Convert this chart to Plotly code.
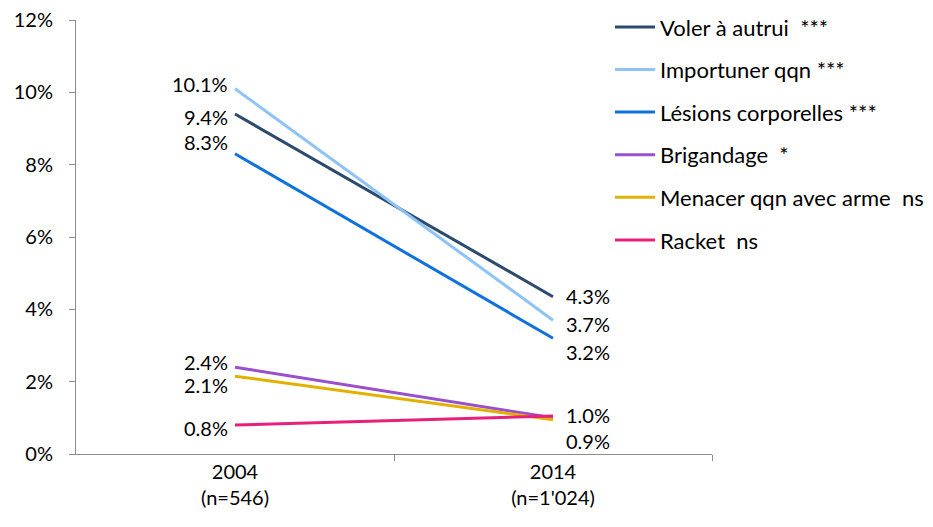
import plotly.graph_objects as go

categories = ["2004<br>(n=546)", "2014<br>(n=1'024)"]
series_names = [
    "Voler à autrui  ***",
    "Importuner qqn ***",
    "Lésions corporelles ***",
    "Brigandage  *",
    "Menacer qqn avec arme  ns",
    "Racket  ns",
]
voler = [9.4, 4.35]
importuner = [10.1, 3.7]
lesions = [8.3, 3.2]
brigandage = [2.4, 1.0]
menacer = [2.15, 0.95]
racket = [0.8, 1.05]
labels_voler = ["9.4%", "4.3%"]
labels_importuner = ["10.1%", "3.7%"]
labels_lesions = ["8.3%", "3.2%"]
labels_brigandage = ["2.4%", ""]
labels_menacer = ["2.1%", "0.9%"]
labels_racket = ["0.8%", "1.0%"]
y_ticks = [0, 2, 4, 6, 8, 10, 12]

values = [voler, importuner, lesions, brigandage, menacer, racket]
labels = [labels_voler, labels_importuner, labels_lesions, labels_brigandage, labels_menacer, labels_racket]
colors = ["#2C4A6E", "#8DC3F7", "#0E72DE", "#9A4FCC", "#E2B100", "#E8207C"]
# label vertical offsets (px) for readability: [start, end]
yshifts = [[-3, 1], [5, -4], [12, -14], [5, 0], [-9, -21], [-3, 1]]

font = "Lato, Calibri, Carlito, sans-serif"
x_pos = [0, 1]

fig = go.Figure()
for name, v, c in zip(series_names, values, colors):
    fig.add_trace(go.Scatter(
        x=x_pos, y=v, mode="lines", name=name,
        line=dict(color=c, width=3), legendgroup=name,
        hoverinfo="skip",
    ))

annotations = []
for v, lab, ys in zip(values, labels, yshifts):
    for i in range(2):
        if not lab[i]:
            continue
        annotations.append(dict(
            x=x_pos[i], y=v[i], text=lab[i], showarrow=False,
            xanchor="right" if i == 0 else "left",
            xshift=-6 if i == 0 else 12, yshift=ys[i],
            height=18, borderpad=0,
            font=dict(family=font, size=20, color="#000000"),
        ))

# the page body adds an 8px offset, so the figure is 8px smaller on each axis
fig.update_layout(
    width=925, height=519,
    margin=dict(l=68, r=221, t=12, b=73, autoexpand=False),
    paper_bgcolor="white", plot_bgcolor="white",
    font=dict(family=font, size=20, color="#000000"),
    showlegend=True,
    legend=dict(
        x=0.8396, xanchor="left", y=1.032, yanchor="top",
        font=dict(family=font, size=22, color="#000000"),
        tracegroupgap=11, itemwidth=40,
        bgcolor="rgba(0,0,0,0)",
    ),
    annotations=annotations,
)
fig.update_xaxes(
    range=[-0.5, 1.5], tickvals=x_pos, ticktext=categories,
    showgrid=False, zeroline=False, showline=True, linecolor="#8C8C8C", linewidth=1,
    ticks="", tickfont=dict(family=font, size=20),
    minor=dict(tickvals=[0.5, 1.5], ticks="outside", ticklen=6, tickcolor="#8C8C8C", showgrid=False),
)
fig.update_yaxes(
    range=[0, 12], tickvals=y_ticks, ticktext=[f"{t}%" for t in y_ticks],
    showgrid=False, zeroline=False, showline=True, linecolor="#8C8C8C", linewidth=1,
    ticks="outside", ticklen=6, tickcolor="#8C8C8C", tickfont=dict(family=font, size=20),
    ticklabelstandoff=12, ticklabeloverflow="allow",
)

fig.write_html("out.html")
